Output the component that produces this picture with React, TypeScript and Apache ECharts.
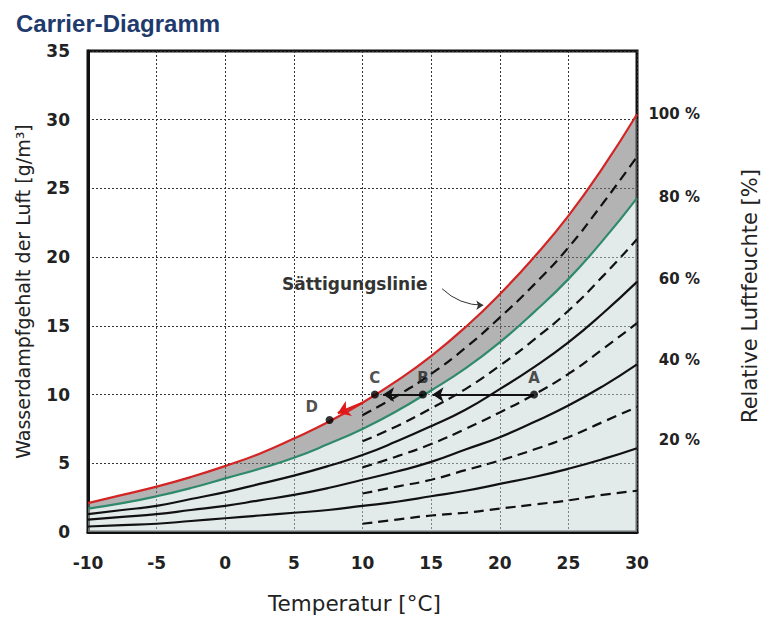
import React, { useEffect, useRef } from "react";
import * as echarts from "echarts";

const temps = [-10, -7.5, -5, -2.5, 0, 2.5, 5, 7.5, 10, 12.5, 15, 17.5, 20, 22.5, 25, 27.5, 30];
const rh100 = [2.1, 2.7, 3.3, 4.0, 4.8, 5.7, 6.8, 8.0, 9.4, 11.0, 12.8, 14.9, 17.3, 20.0, 23.0, 26.5, 30.4];
const rh80 = [1.7, 2.1, 2.6, 3.2, 3.9, 4.6, 5.4, 6.4, 7.5, 8.8, 10.3, 11.9, 13.8, 16.0, 18.4, 21.2, 24.3];
const rh60 = [1.3, 1.6, 1.9, 2.4, 2.9, 3.5, 4.1, 4.8, 5.6, 6.6, 7.7, 8.9, 10.4, 12.0, 13.8, 15.9, 18.2];
const rh40 = [0.9, 1.1, 1.3, 1.6, 1.9, 2.3, 2.7, 3.2, 3.8, 4.4, 5.1, 6.0, 6.9, 8.0, 9.2, 10.6, 12.2];
const rh20 = [0.4, 0.5, 0.6, 0.8, 1.0, 1.2, 1.4, 1.6, 1.9, 2.2, 2.6, 3.0, 3.5, 4.0, 4.6, 5.3, 6.1];

const tempsDash = [10, 12.5, 15, 17.5, 20, 22.5, 25, 27.5, 30];
const rh90 = [8.5, 9.9, 11.5, 13.4, 15.6, 18.0, 20.7, 23.9, 27.3];
const rh70 = [6.6, 7.7, 9.0, 10.4, 12.1, 14.0, 16.1, 18.6, 21.3];
const rh50 = [4.7, 5.5, 6.4, 7.5, 8.7, 10.0, 11.5, 13.3, 15.2];
const rh30 = [2.8, 3.3, 3.8, 4.5, 5.2, 6.0, 6.9, 8.0, 9.1];
const rh10 = [0.6, 0.9, 1.2, 1.4, 1.7, 2.0, 2.3, 2.7, 3.0];

const X_MIN = -10;
const X_MAX = 30;
const Y_MIN = 0;
const Y_MAX = 35;

const rhLabels = ["100 %", "80 %", "60 %", "40 %", "20 %"];
const rhLabelY = [30.4, 24.4, 18.4, 12.5, 6.7];

const pointNames = ["A", "B", "C", "D"];
const pointT = [22.5, 14.4, 10.9, 7.6];
const pointW = [10, 10, 10, 8.15];

const arrowSegments = [
  [[22.5, 10], [15.1, 10]],
  [[14.4, 10], [11.5, 10]],
];
const redArrow = [[10.0, 9.4], [8.2, 8.65]];
const noteArrow = [[15.8, 17.7], [18.8, 16.5]];

const FONT = "DejaVu Sans, Verdana, sans-serif";
const TITLE_FONT = "Liberation Sans, Arial, sans-serif";

export default function App() {
  const ref = useRef<HTMLDivElement>(null);
  useEffect(() => {
    if (!ref.current) return;
    const chart = echarts.init(ref.current, null, { renderer: "svg" });
    const pair = (xs: number[], ys: number[]) => xs.map((x, i) => [x, ys[i]]);
    const solid = (name: string, ys: number[], color: string) => ({
      name,
      type: "line",
      data: pair(temps, ys),
      symbol: "none",
      smooth: true,
      lineStyle: { color, width: 2.2 },
      z: 4,
    });
    const dashed = (name: string, ys: number[]) => ({
      name,
      type: "line",
      data: pair(tempsDash, ys),
      symbol: "none",
      smooth: true,
      lineStyle: { color: "#111", width: 2.2, type: [10, 6] },
      z: 4,
    });
    // filled region between an upper and a lower boundary, drawn once as a polygon
    const region = (name: string, upper: number[], lower: number[] | null, fill: string) => ({
      name,
      type: "custom",
      coordinateSystem: "cartesian2d",
      silent: true,
      z: 1,
      data: temps.map((t, i) => [t, upper[i]]),
      encode: { x: 0, y: 1 },
      renderItem: (params: any, api: any) => {
        if (params.dataIndex !== 0) return { type: "group", children: [] };
        const top = temps.map((t, i) => api.coord([t, upper[i]]));
        const bottom = temps
          .map((t, i) => api.coord([t, lower ? lower[i] : Y_MIN]))
          .reverse();
        return {
          type: "polygon",
          shape: { points: top.concat(bottom) },
          style: { fill, stroke: "none" },
        };
      },
    });
    const gridLine = { show: true, lineStyle: { color: "#333", width: 1, type: [2, 2] } };
    chart.setOption({
      animation: false,
      backgroundColor: "#fff",
      title: {
        text: "Carrier-Diagramm",
        left: 11,
        top: 6,
        textStyle: { fontFamily: TITLE_FONT, fontSize: 24, fontWeight: "bold", color: "#1f3a6d" },
      },
      grid: {
        left: 88,
        right: 125,
        top: 51,
        bottom: 87,
        show: true,
        borderColor: "#111",
        borderWidth: 3,
        backgroundColor: "transparent",
      },
      xAxis: {
        type: "value",
        min: X_MIN,
        max: X_MAX,
        interval: 5,
        name: "Temperatur [°C]",
        nameLocation: "middle",
        nameGap: 60,
        nameTextStyle: { fontFamily: FONT, fontSize: 21.5, color: "#222", padding: [0, 16, 0, 0] },
        axisLine: { lineStyle: { color: "#111", width: 3 } },
        axisTick: { show: false },
        axisLabel: { fontFamily: FONT, fontSize: 17, fontWeight: "bold", color: "#222", margin: 22 },
        splitLine: gridLine,
      },
      yAxis: [
        {
          type: "value",
          min: Y_MIN,
          max: Y_MAX,
          interval: 5,
          name: "Wasserdampfgehalt der Luft [g/m³]",
          nameLocation: "middle",
          nameGap: 56,
          nameTextStyle: { fontFamily: FONT, fontSize: 19, color: "#222" },
          axisLine: { show: true, onZero: false, lineStyle: { color: "#111", width: 3 } },
          axisTick: { show: false },
          axisLabel: { fontFamily: FONT, fontSize: 17, fontWeight: "bold", color: "#222", margin: 18 },
          splitLine: gridLine,
        },
        {
          type: "value",
          min: Y_MIN,
          max: Y_MAX,
          position: "right",
          axisLine: { show: false, onZero: false },
          axisTick: { show: false },
          splitLine: { show: false },
          axisLabel: {
            customValues: rhLabelY,
            formatter: (v: number) => {
              const i = rhLabelY.indexOf(v);
              return i >= 0 ? rhLabels[i] : "";
            },
            align: "right",
            margin: 63,
            fontFamily: FONT,
            fontSize: 15,
            fontWeight: "bold",
            color: "#222",
          },
        },
      ],
      graphic: [
        {
          type: "text",
          x: 750,
          y: 296,
          rotation: Math.PI / 2,
          style: {
            text: "Relative Luftfeuchte [%]",
            fontFamily: FONT,
            fontSize: 21,
            fill: "#222",
            align: "center",
            verticalAlign: "middle",
          },
        },
        {
          type: "text",
          x: 282,
          y: 284,
          style: {
            text: "Sättigungslinie",
            fontFamily: FONT,
            fontSize: 17,
            fontWeight: "bold",
            fill: "#333",
            verticalAlign: "middle",
          },
          z: 10,
        },
      ],
      series: [
        region("band", rh100, rh80, "rgba(120,120,120,0.56)"),
        region("fill80", rh80, null, "rgba(200,214,214,0.5)"),
        solid("100 %", rh100, "#d42424"),
        solid("80 %", rh80, "#2f8a6c"),
        solid("60 %", rh60, "#111"),
        solid("40 %", rh40, "#111"),
        solid("20 %", rh20, "#111"),
        dashed("90 %", rh90),
        dashed("70 %", rh70),
        dashed("50 %", rh50),
        dashed("30 %", rh30),
        dashed("10 %", rh10),
        {
          type: "lines",
          coordinateSystem: "cartesian2d",
          polyline: false,
          symbol: ["none", "arrow"],
          symbolSize: 11,
          lineStyle: { color: "#111", width: 2.2, opacity: 1 },
          data: arrowSegments.map((c) => ({ coords: c })),
          z: 11,
        },
        {
          type: "lines",
          coordinateSystem: "cartesian2d",
          polyline: false,
          symbol: ["none", "arrow"],
          symbolSize: 12,
          lineStyle: { color: "#e01818", width: 2.2, opacity: 1 },
          data: [{ coords: redArrow }],
          z: 11,
        },
        {
          type: "lines",
          coordinateSystem: "cartesian2d",
          polyline: false,
          symbol: ["none", "arrow"],
          symbolSize: 7,
          lineStyle: { color: "#333", width: 1, opacity: 1, curveness: -0.2 },
          data: [{ coords: noteArrow }],
          z: 11,
        },
        {
          type: "scatter",
          data: pointNames.map((n, i) => ({
            name: n,
            value: [pointT[i], pointW[i]],
            label: n === "D" ? { position: [-20, -16] } : {},
          })),
          symbolSize: 8,
          itemStyle: { color: "#000" },
          label: {
            show: true,
            formatter: (p: any) => p.name,
            position: "top",
            distance: 5,
            fontFamily: FONT,
            fontSize: 15,
            fontWeight: "bold",
            color: "#222",
          },
          z: 12,
        },
      ],
    });
    return () => chart.dispose();
  }, []);
  return <div ref={ref} style={{ width: 762, height: 619, position: "absolute", left: 0, top: 0 }} />;
}
